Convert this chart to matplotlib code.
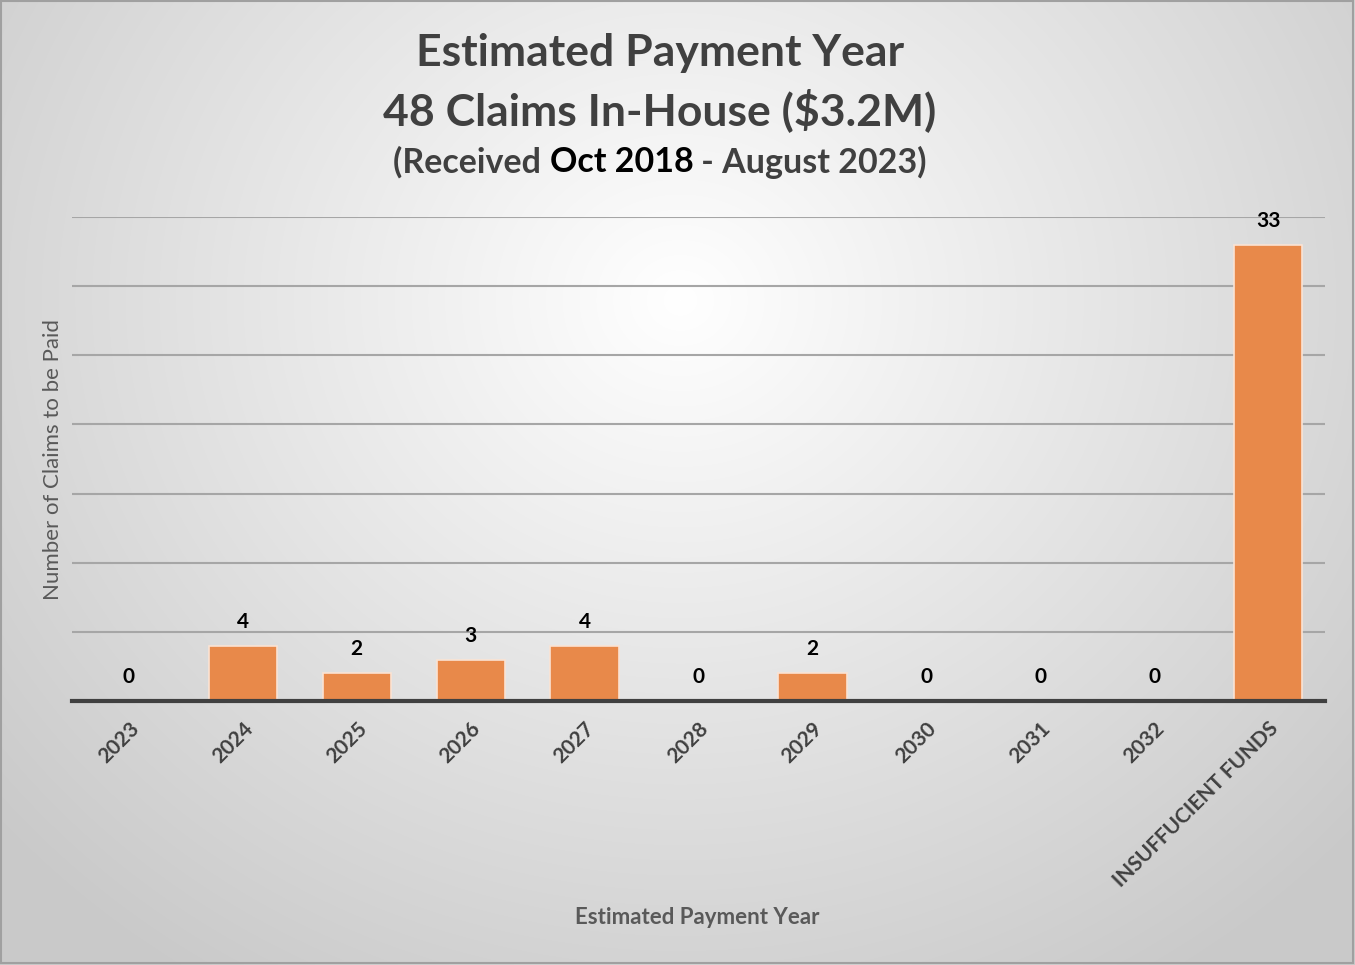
import matplotlib
matplotlib.use("Agg")
import matplotlib.pyplot as plt
import numpy as np

categories = ["2023", "2024", "2025", "2026", "2027", "2028", "2029", "2030", "2031", "2032", "INSUFFUCIENT FUNDS"]
claims = [0, 4, 2, 3, 4, 0, 2, 0, 0, 0, 33]
y_ticks = [0, 5, 10, 15, 20, 25, 30, 35]

FONT = ["Lato", "DejaVu Sans"]
plt.rcParams['font.family'] = FONT

W, H = 1355, 965
fig = plt.figure(figsize=(W / 100, H / 100), dpi=100)

# radial gradient background
bg = fig.add_axes([0, 0, 1, 1], zorder=-10)
yy, xx = np.mgrid[0:H, 0:W]
cx, cy = 680, 300
r = np.sqrt(((xx - cx) / 1.0) ** 2 + ((yy - cy) / 0.9) ** 2)
t = np.clip(r / 900.0, 0, 1)
val = 1.0 - t * (1.0 - 0.79)
img = np.dstack([val, val, val])
bg.imshow(img, aspect='auto', extent=[0, W, H, 0])
bg.set_xlim(0, W)
bg.set_ylim(H, 0)
bg.axis('off')
bg.add_patch(plt.Rectangle((1, 1), W - 3, H - 3, fill=False, edgecolor='#a0a0a0', linewidth=1.5))

ax = fig.add_axes([72 / W, 1 - 701 / H, (1325 - 72) / W, (701 - 217) / H])
ax.patch.set_alpha(0)
x = np.arange(len(categories))
bars = ax.bar(x, claims, width=0.6, color='#E8894A', edgecolor='#FBE3D3', linewidth=1.2, zorder=3)
ax.set_xlim(-0.5, len(categories) - 0.5)
ax.set_ylim(0, 35)
ax.set_yticks(y_ticks)
ax.yaxis.grid(True, color='#a6a6a6', linewidth=1.5, zorder=0)
ax.tick_params(axis='y', left=False, labelleft=False)
ax.tick_params(axis='x', bottom=False, pad=9)
for s in ['top', 'right', 'left']:
    ax.spines[s].set_visible(False)
ax.spines['bottom'].set_color('#404040')
ax.spines['bottom'].set_linewidth(3)
ax.spines['bottom'].set_zorder(4)
ax.set_xticks(x)
ax.set_xticklabels(categories, rotation=45, ha='right', rotation_mode='anchor',
                   fontsize=15, fontweight='bold', color='#404040')
for xi, v in zip(x, claims):
    ax.annotate(str(v), (xi, v), xytext=(0, 10), textcoords='offset points',
                ha='center', va='bottom', fontsize=15, fontweight='bold', color='black')

fig.text(697 / W, 1 - 917 / H, "Estimated Payment Year", ha='center', va='center',
         fontsize=16, fontweight='bold', color='#595959')
fig.text(53 / W, 1 - 460 / H, "Number of Claims to be Paid", ha='center', va='center',
         rotation=90, fontsize=16, color='#595959')

fig.text(660 / W, 1 - 53 / H, "Estimated Payment Year", ha='center', va='center',
         fontsize=32, fontweight='bold', color='#404040')
fig.text(660 / W, 1 - 110 / H, "48 Claims In-House ($3.2M)", ha='center', va='center',
         fontsize=32, fontweight='bold', color='#404040')

# third line with mixed colours
parts = [("(Received ", '#404040'), ("Oct 2018", '#000000'), (" - August 2023)", '#404040')]
fig.canvas.draw()
renderer = fig.canvas.get_renderer()
texts = []
widths = []
for s, c in parts:
    tt = fig.text(0, 1 - 162 / H, s, ha='left', va='center', fontsize=24.5, fontweight='bold', color=c)
    texts.append(tt)
    widths.append(tt.get_window_extent(renderer).width)
total = sum(widths)
start = 660 - total / 2
for tt, w in zip(texts, widths):
    tt.set_x(start / W)
    start += w

fig.savefig("out.png", dpi=100)
